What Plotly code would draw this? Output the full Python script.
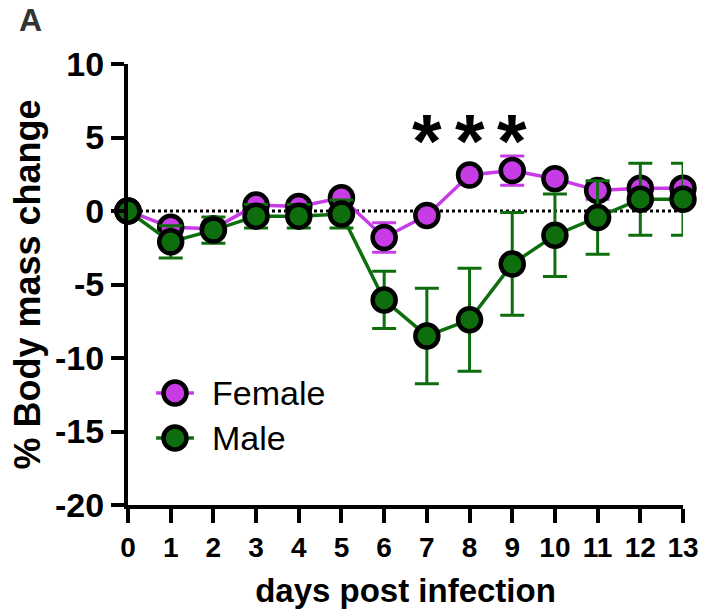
import plotly.graph_objects as go

days = list(range(14))
female_mean = [0, -1.1, -1.2, 0.4, 0.3, 0.9, -1.8, -0.3, 2.45, 2.75, 2.2, 1.4, 1.55, 1.55]
female_err = [0, 0.4, 0.3, 0.4, 0.4, 0.4, 1.0, 0.3, 0.4, 1.0, 0.4, 0.6, 0.4, 0.4]
male_mean = [0, -2.1, -1.3, -0.35, -0.35, -0.2, -6.05, -8.5, -7.4, -3.6, -1.65, -0.45, 0.8, 0.8]
male_err = [0, 1.1, 0.9, 0.8, 0.8, 0.95, 1.95, 3.25, 3.5, 3.5, 2.8, 2.5, 2.45, 2.45]
sig_days = [7, 8, 9]
x_ticks = list(range(14))
y_ticks = [10, 5, 0, -5, -10, -15, -20]
series_names = ["Female", "Male"]

female_color = "#C83CE6"
male_color = "#0E6E0E"
FONT = "Liberation Sans, Arial, sans-serif"

fig = go.Figure()

# zero reference line
fig.add_trace(go.Scatter(x=[days[0], days[-1]], y=[0, 0], mode="lines",
                         line=dict(color="black", width=3, dash="dot"),
                         showlegend=False, hoverinfo="skip"))

series = [(series_names[0], female_mean, female_err, female_color),
          (series_names[1], male_mean, male_err, male_color)]

for name, mean, err, color in series:
    fig.add_trace(go.Scatter(
        x=days, y=mean, name=name, mode="lines+markers",
        line=dict(color=color, width=3.5),
        marker=dict(size=23, color=color, line=dict(color="black", width=4.5)),
        error_y=dict(type="data", array=err, visible=True, color=color,
                     thickness=3, width=12),
        cliponaxis=False, showlegend=False,
    ))

# custom legend drawn on an overlay axis pair (0..1 scale)
leg_x = 0.0847
leg_dx = 0.034
leg_y = [0.254, 0.152]
for (name, _, _, color), ly in zip(series, leg_y):
    fig.add_trace(go.Scatter(
        x=[leg_x - leg_dx, leg_x + leg_dx], y=[ly, ly], mode="lines",
        line=dict(color=color, width=3.5), xaxis="x2", yaxis="y2",
        showlegend=False, hoverinfo="skip", cliponaxis=False))
    fig.add_trace(go.Scatter(
        x=[leg_x], y=[ly], mode="markers",
        marker=dict(size=23, color=color, line=dict(color="black", width=4.5)),
        xaxis="x2", yaxis="y2", showlegend=False, hoverinfo="skip", cliponaxis=False))
    fig.add_annotation(x=0.148, y=ly, xref="x2", yref="y2", text=name,
                       showarrow=False, xanchor="left", yanchor="middle",
                       font=dict(family=FONT, size=34, color="black"))

for d in sig_days:
    fig.add_annotation(x=d, y=5.5, text="<b>*</b>", showarrow=False,
                       font=dict(family=FONT, size=76, color="black"),
                       yanchor="middle", yshift=-10)

fig.add_annotation(xref="paper", yref="paper", x=-0.2, y=1.0, yshift=44,
                   text="<b>A</b>", showarrow=False, xanchor="left", yanchor="middle",
                   font=dict(family=FONT, size=32, color="#333333"))

fig.update_layout(
    width=701, height=611,
    margin=dict(l=128, r=18, t=64, b=106),
    plot_bgcolor="white", paper_bgcolor="white",
    font=dict(family=FONT, color="black"),
    showlegend=False,
    xaxis=dict(range=[0, 13], tickmode="array", tickvals=x_ticks,
               ticktext=[str(t) for t in x_ticks], automargin=False,
               showline=True, linecolor="black", linewidth=4,
               ticks="outside", ticklen=14, tickwidth=3.5, tickcolor="black",
               tickfont=dict(family=FONT, size=28, color="black", weight="bold"),
               showgrid=False, zeroline=False,
               title=dict(text="<b>days post infection</b>", standoff=18,
                          font=dict(family=FONT, size=33, color="black"))),
    yaxis=dict(range=[-20, 10], tickmode="array", tickvals=y_ticks,
               ticktext=[str(t) for t in y_ticks], automargin=False,
               showline=True, linecolor="black", linewidth=4,
               ticks="outside", ticklen=13, tickwidth=3.5, tickcolor="black",
               tickfont=dict(family=FONT, size=34, color="black", weight="bold"),
               showgrid=False, zeroline=False,
               title=dict(text="<b>% Body mass change</b>", standoff=4,
                          font=dict(family=FONT, size=36, color="black"))),
    xaxis2=dict(domain=[0, 1], range=[0, 1], overlaying="x", visible=False,
                fixedrange=True),
    yaxis2=dict(domain=[0, 1], range=[0, 1], overlaying="y", visible=False,
                fixedrange=True, anchor="x2"),
)

fig.write_html("out.html", config={"displayModeBar": False},
               post_script="document.body.style.margin='0';document.body.style.overflow='hidden';")
